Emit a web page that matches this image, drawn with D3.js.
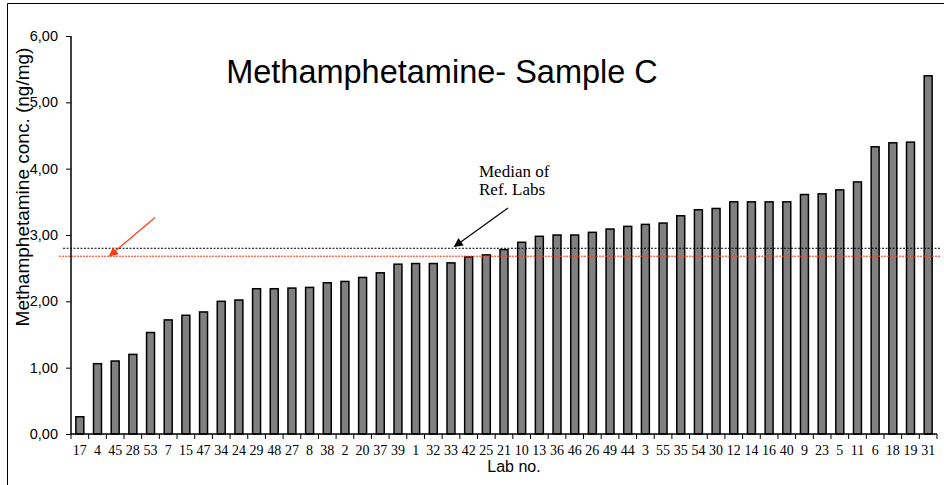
<!DOCTYPE html>
<html>
<head>
<meta charset="utf-8">
<script src="https://cdn.jsdelivr.net/npm/d3@7"></script>
<style>
  html, body { margin: 0; padding: 0; background: #fff; }
  svg { display: block; }
</style>
</head>
<body>
<div id="chart"></div>
<script>
// ---- Data ----
const labs = ["17","4","45","28","53","7","15","47","34","24","29","48","27","8","38","2","20","37","39","1","32","33","42","25","21","10","13","36","46","26","49","44","3","55","35","54","30","12","14","16","40","9","23","5","11","6","18","19","31"];
const values = [0.26,1.06,1.10,1.20,1.53,1.72,1.79,1.84,2.00,2.02,2.19,2.19,2.20,2.21,2.28,2.30,2.36,2.43,2.56,2.57,2.57,2.58,2.67,2.70,2.78,2.89,2.98,3.00,3.00,3.04,3.09,3.13,3.16,3.18,3.29,3.38,3.40,3.50,3.50,3.50,3.50,3.61,3.62,3.68,3.80,4.33,4.39,4.40,5.40];
const yTicks = [0,1,2,3,4,5,6];
const refMedian = 2.80;   // median of reference labs (black dashed)
const allMedian = 2.68;   // red dotted line
const title = "Methamphetamine- Sample C";
const yTitle = "Methamphetamine conc. (ng/mg)";
const xTitle = "Lab no.";

// ---- Layout ----
const W = 944, H = 485;
const x0 = 71, x1 = 937, yTop = 36, yBot = 434;

const svg = d3.select("#chart").append("svg").attr("width", W).attr("height", H);

// frame
svg.append("path").attr("d", `M7.5,${H} V3.5 H${W}`).attr("fill","none").attr("stroke","#000").attr("stroke-width",1);

const x = d3.scaleBand().domain(labs).range([x0, x1]).paddingInner(0.55).paddingOuter(0.275);
const y = d3.scaleLinear().domain([0, 6]).range([yBot, yTop]);

// title
svg.append("text").attr("x", 442).attr("y", 82.5).attr("text-anchor","middle")
  .style("font-family","'Liberation Sans', Arial, sans-serif").style("font-size","32.5px").attr("fill","#000").text(title);

// bars
svg.append("g").selectAll("rect").data(values).join("rect")
  .attr("x", (d,i) => x(labs[i]))
  .attr("y", d => y(d))
  .attr("width", x.bandwidth())
  .attr("height", d => y(0) - y(d))
  .attr("fill", "#808080").attr("stroke", "#000").attr("stroke-width", 1.5);

// reference lines
svg.append("line").attr("x1", 63).attr("x2", 940).attr("y1", y(refMedian)).attr("y2", y(refMedian))
  .attr("stroke","#000").attr("stroke-width",1).attr("stroke-dasharray","2,1.5");
svg.append("line").attr("x1", 59).attr("x2", 940).attr("y1", y(allMedian)).attr("y2", y(allMedian))
  .attr("stroke","#ff3b14").attr("stroke-width",1).attr("stroke-dasharray","2,1");

// y axis
const yAxis = d3.axisLeft(y).tickValues(yTicks).tickSize(5).tickPadding(8)
  .tickFormat(d => d3.format(".2f")(d).replace(".", ","));
const gy = svg.append("g").attr("transform", `translate(${x0},0)`).call(yAxis);
gy.select(".domain").attr("stroke","#000").attr("stroke-width",1.5).attr("d", `M0,${yTop}V${yBot}`);
gy.selectAll(".tick line").attr("stroke","#000");
gy.selectAll(".tick text").style("font-family","'Liberation Sans', Arial, sans-serif").style("font-size","14.5px").attr("fill","#000");

// x axis line
svg.append("line").attr("x1", x0).attr("x2", x1).attr("y1", yBot).attr("y2", yBot).attr("stroke","#000").attr("stroke-width",1.5);
// x ticks at band boundaries
const step = x.step();
const bounds = d3.range(labs.length + 1).map(i => x0 + i * step);
svg.append("g").selectAll("line").data(bounds).join("line")
  .attr("x1", d => d).attr("x2", d => d).attr("y1", yBot).attr("y2", yBot + 5)
  .attr("stroke","#000").attr("stroke-width",1);
// x labels
svg.append("g").selectAll("text").data(labs).join("text")
  .attr("x", d => x(d) + x.bandwidth()/2).attr("y", 455).attr("text-anchor","middle")
  .style("font-family","'Liberation Serif', 'Times New Roman', serif").style("font-size","14px").attr("fill","#000")
  .text(d => d);

// axis titles
svg.append("text").attr("x", 514).attr("y", 472).attr("text-anchor","middle")
  .style("font-family","'Liberation Sans', Arial, sans-serif").style("font-size","16px").attr("fill","#000").text(xTitle);
svg.append("text").attr("transform", "translate(29,187) rotate(-90)").attr("text-anchor","middle")
  .style("font-family","'Liberation Sans', Arial, sans-serif").style("font-size","19px").attr("fill","#000").text(yTitle);

// annotation
const ann = svg.append("text").style("font-family","'Liberation Serif', 'Times New Roman', serif").style("font-size","17px").attr("fill","#000");
ann.append("tspan").attr("x", 479).attr("y", 176.5).text("Median of");
ann.append("tspan").attr("x", 479).attr("y", 195).text("Ref. Labs");

// arrows
const defs = svg.append("defs");
function marker(id, color) {
  defs.append("marker").attr("id", id).attr("viewBox","0 0 10 10").attr("refX", 9).attr("refY", 5)
    .attr("markerWidth", 11).attr("markerHeight", 9).attr("markerUnits","userSpaceOnUse").attr("orient","auto")
    .append("path").attr("d","M0,0 L10,5 L0,10 Z").attr("fill", color);
}
marker("arrBlack", "#000");
marker("arrRed", "#ff3b14");
svg.append("line").attr("x1", 508).attr("y1", 208).attr("x2", 454.5).attr("y2", 246.5)
  .attr("stroke","#000").attr("stroke-width",1.2).attr("marker-end","url(#arrBlack)");
svg.append("line").attr("x1", 155).attr("y1", 217.5).attr("x2", 109.5).attr("y2", 256)
  .attr("stroke","#ff3b14").attr("stroke-width",1.2).attr("marker-end","url(#arrRed)");
</script>
</body>
</html>
